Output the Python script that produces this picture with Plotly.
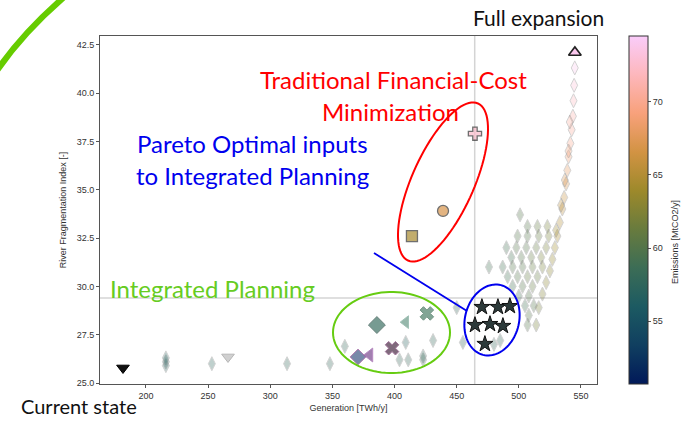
import numpy as np
import plotly.graph_objects as go

# ---------------- data ----------------
# faded grid of candidate portfolios (generation, fragmentation, emissions)
cloud_gen = [501, 507, 515, 523, 499, 507, 516, 524, 490, 498, 506, 514, 522,
             494, 502, 510, 518, 476, 487, 495, 503, 511, 519, 491, 499, 507, 515,
             495, 503, 511, 500, 508, 505, 512, 508, 507,
             514, 516, 519, 522, 525, 527, 529, 531, 533, 535, 536.5, 538, 539, 540,
             541.5, 542.5, 543.5, 544, 544.5, 545,
             530, 534, 537, 540, 541,
             216, 216, 216, 253, 313.5, 348, 360, 404, 411, 423, 423, 431, 409,
             450, 455, 485, 480]
cloud_rfi = [33.7, 33.1, 33.1, 33.1, 32.6, 32.6, 32.6, 32.6, 32.0, 32.0, 32.0, 32.0, 32.0,
             31.5, 31.5, 31.5, 31.5, 31.0, 31.0, 31.0, 31.0, 31.0, 31.0, 30.5, 30.5, 30.5, 30.5,
             30.0, 30.0, 30.0, 29.5, 29.5, 29.0, 29.0, 28.5, 28.0,
             28.0, 28.9, 29.6, 30.2, 30.8, 31.4, 32.0, 32.6, 33.3, 34.0, 34.6, 35.3, 36.0, 36.7,
             37.4, 38.1, 38.8, 39.6, 40.4, 41.3,
             32.9, 34.2, 35.5, 37.0, 38.5,
             25.9, 26.1, 26.3, 26.0, 26.0, 26.0, 26.9, 26.2, 26.2, 26.2, 26.4, 27.2, 27.1,
             28.9, 27.1, 27.2, 27.0]
cloud_em = [60, 60, 61, 62, 60, 60, 61, 62, 59, 60, 60, 61, 62,
            59, 60, 61, 62, 59, 59, 60, 60, 61, 62, 59, 60, 61, 61,
            59, 60, 61, 59, 60, 59, 60, 60, 60,
            62, 62, 62.5, 63, 63, 63.5, 64, 64.5, 65, 65.5, 66, 67, 68, 69,
            70, 70.5, 71, 72, 73, 74,
            64, 65.5, 67, 69, 70.5,
            57, 57, 57, 57.5, 58, 58, 58, 58, 58, 58, 58, 58, 57,
            58, 58, 58, 58]

current_gen = [181.5]
current_rfi = [25.78]

full_gen = [545.1]
full_rfi = [42.1]
full_em = [74.0]

trad_gen = [464.7, 439.0, 414.0]
trad_rfi = [37.9, 33.9, 32.6]
trad_em = [72.5, 67.0, 64.5]

pareto_gen = [470.3, 483.2, 492.8, 464.7, 476.8, 487.2, 472.7]
pareto_rfi = [28.93, 28.93, 28.98, 28.0, 28.05, 27.95, 27.02]

ip_gen = [385.8, 409.0, 426.0, 398.0, 370.6, 380.0]
ip_rfi = [28.0, 28.15, 28.6, 26.8, 26.35, 26.45]

other_gen = [266.0]
other_rfi = [26.35]

x_ticks = [200, 250, 300, 350, 400, 450, 500, 550]
y_ticks = [25.0, 27.5, 30.0, 32.5, 35.0, 37.5, 40.0, 42.5]
cb_ticks = [55, 60, 65, 70]
ref_gen = 464.5
ref_rfi = 29.4

# ---------------- styling ----------------
W, H = 681, 421
L, R, T, B = 100, 597, 36, 384

batlow = ["#011959", "#103F60", "#1C5A62", "#3C6D56", "#687B3E",
          "#9D892B", "#D29343", "#F8A17B", "#FDB7BC", "#FACCFA"]
colorscale = [[i / (len(batlow) - 1), c] for i, c in enumerate(batlow)]


def px2paper(px, py):
    return (px - L) / (R - L), (B - py) / (B - T)


def ellipse_path(cx, cy, a, b, ang_deg, n=90):
    th = np.deg2rad(ang_deg)
    t = np.linspace(0, 2 * np.pi, n, endpoint=False)
    xs = cx + a * np.cos(t) * np.cos(th) - b * np.sin(t) * np.sin(th)
    ys = cy - (a * np.cos(t) * np.sin(th) + b * np.sin(t) * np.cos(th))
    pts = [px2paper(x, y) for x, y in zip(xs, ys)]
    return "M " + " L ".join(f"{x:.5f},{y:.5f}" for x, y in pts) + " Z"


fig = go.Figure()

fig.add_trace(go.Scatter(
    x=cloud_gen, y=cloud_rfi, mode="markers",
    marker=dict(symbol="diamond-tall", size=10, color=cloud_em, coloraxis="coloraxis",
                opacity=0.3, line=dict(color="#6f6f6f", width=1)),
    showlegend=False, hoverinfo="skip"))

fig.add_trace(go.Scatter(
    x=other_gen, y=other_rfi, mode="markers",
    marker=dict(symbol="triangle-down", size=11, color="#bdbdbd", opacity=0.7,
                line=dict(color="#999", width=1)),
    showlegend=False))

fig.add_trace(go.Scatter(
    x=current_gen, y=current_rfi, mode="markers",
    marker=dict(symbol="triangle-down", size=11, color="#111",
                line=dict(color="#000", width=1)),
    showlegend=False))

fig.add_trace(go.Scatter(
    x=full_gen, y=full_rfi, mode="markers",
    marker=dict(symbol="triangle-up", size=11, color=full_em, coloraxis="coloraxis",
                line=dict(color="#222", width=1.6)),
    showlegend=False))

fig.add_trace(go.Scatter(
    x=trad_gen, y=trad_rfi, mode="markers",
    marker=dict(symbol=["cross", "circle", "square"], size=[11, 11, 11],
                color=trad_em, coloraxis="coloraxis",
                line=dict(color="#333", width=1.3)),
    showlegend=False))

fig.add_trace(go.Scatter(
    x=ip_gen, y=ip_rfi, mode="markers",
    marker=dict(symbol=["diamond", "triangle-left", "x", "x", "diamond", "triangle-left"],
                size=[13, 11, 12, 12, 12, 12],
                color=["#3e7164", "#6a9a88", "#4d8069", "#4a2c45", "#3f5885", "#7c4a90"],
                line=dict(color=["#2c4f47", "#7aa898", "#3a6a55", "#7a3a70", "#8a3a8a", "#9a5aa8"],
                          width=1)),
    showlegend=False))

fig.add_trace(go.Scatter(
    x=pareto_gen, y=pareto_rfi, mode="markers",
    marker=dict(symbol="star", size=12, color="#2c3a3a",
                line=dict(color="#111", width=1)),
    showlegend=False))

shapes = []
# reference lines
shapes.append(dict(type="line", xref="x", yref="paper", x0=ref_gen, x1=ref_gen, y0=0, y1=1,
                   line=dict(color="#d4d4d4", width=1.5), layer="below"))
shapes.append(dict(type="line", xref="paper", yref="y", x0=0, x1=1, y0=ref_rfi, y1=ref_rfi,
                   line=dict(color="#d4d4d4", width=1.5), layer="below"))
# ellipses
shapes.append(dict(type="path", xref="paper", yref="paper",
                   path=ellipse_path(443, 182, 86, 31, 66), line=dict(color="#ff0000", width=2)))
shapes.append(dict(type="path", xref="paper", yref="paper",
                   path=ellipse_path(391.5, 332.5, 58.5, 40.5, 0), line=dict(color="#66cc11", width=2)))
shapes.append(dict(type="path", xref="paper", yref="paper",
                   path=ellipse_path(492, 320, 36, 27, 75.6), line=dict(color="#0000ee", width=2)))
# connector
x0, y0 = px2paper(374, 253)
x1, y1 = px2paper(467, 311)
shapes.append(dict(type="line", xref="paper", yref="paper", x0=x0, y0=y0, x1=x1, y1=y1,
                   line=dict(color="#0000ee", width=1.8)))
# green arc in corner
p0 = px2paper(-6, 75)
c0 = px2paper(22, 32.5)
p2 = px2paper(70, -8)
shapes.append(dict(type="path", xref="paper", yref="paper",
                   path=f"M {p0[0]:.5f},{p0[1]:.5f} Q {c0[0]:.5f},{c0[1]:.5f} {p2[0]:.5f},{p2[1]:.5f}",
                   line=dict(color="#66cc00", width=6)))

ann_font = "Lato, 'Open Sans', sans-serif"


def txt(s, px, py, color, size, angle=0, family=ann_font):
    x, y = px2paper(px, py)
    return dict(text=s, x=x, y=y, xref="paper", yref="paper", showarrow=False,
                xanchor="center", yanchor="middle", textangle=angle,
                font=dict(family=family, size=size, color=color))


annotations = [
    txt("Full expansion", 538, 17, "#111", 21),
    txt("Current state", 79, 406, "#111", 20),
    txt("Traditional Financial-Cost", 393, 80, "#ff0000", 24),
    txt("Minimization", 390, 111, "#ff0000", 24),
    txt("Pareto Optimal inputs", 252, 143, "#0000ee", 24),
    txt("to Integrated Planning", 252, 175, "#0000ee", 24),
    txt("Integrated Planning", 212, 288, "#66cc22", 24),
    txt("Emissions [MtCO2/y]", 675, 242, "#333", 9, angle=-90,
        family="Liberation Sans, Arial, sans-serif"),
]

axis_common = dict(showline=True, mirror=True, linecolor="#555", linewidth=1,
                   ticks="outside", ticklen=3, tickcolor="#555", tickwidth=1,
                   showgrid=False, zeroline=False,
                   tickfont=dict(family="Liberation Sans, Arial, sans-serif", size=9, color="#333"))

fig.update_layout(
    width=W, height=H,
    margin=dict(l=L, r=W - R, t=T, b=H - B, autoexpand=False),
    paper_bgcolor="white", plot_bgcolor="white",
    showlegend=False,
    shapes=shapes, annotations=annotations,
    xaxis=dict(range=[163.0, 562.9], tickvals=x_ticks,
               title=dict(text="Generation [TWh/y]", standoff=4,
                          font=dict(family="Liberation Sans, Arial, sans-serif", size=9, color="#333")),
               **axis_common),
    yaxis=dict(range=[24.95, 42.95], tickvals=y_ticks, tickformat=".1f",
               title=dict(text="River Fragmentation Index [-]", standoff=8,
                          font=dict(family="Liberation Sans, Arial, sans-serif", size=9, color="#333")),
               **axis_common),
    coloraxis=dict(colorscale=colorscale, cmin=50.7, cmax=74.5,
                   colorbar=dict(x=(629 - L) / (R - L), xanchor="left", xpad=0, ypad=0,
                                 y=0.5, yanchor="middle", len=1.0, lenmode="fraction",
                                 thickness=19, thicknessmode="pixels",
                                 outlinewidth=1, outlinecolor="#333",
                                 tickvals=cb_ticks, ticks="outside", ticklen=3,
                                 tickcolor="#555",
                                 tickfont=dict(family="Liberation Sans, Arial, sans-serif",
                                               size=9, color="#333"))),
)

fig.write_html("out.html")
